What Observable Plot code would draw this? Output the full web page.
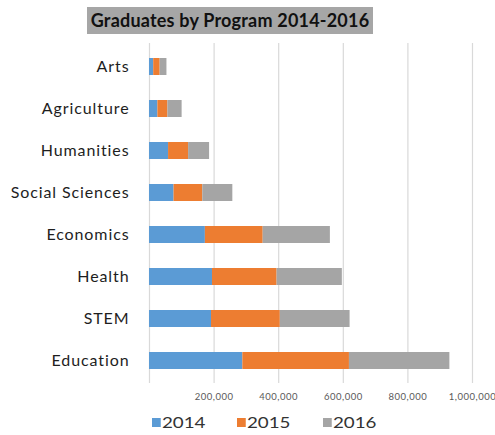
<!DOCTYPE html>
<html>
<head>
<meta charset="utf-8">
<script src="https://cdn.jsdelivr.net/npm/d3@7"></script>
<script src="https://cdn.jsdelivr.net/npm/@observablehq/plot@0.6"></script>
<style>
  body { margin: 0; background: #fff; font-family: Lato, "Open Sans", sans-serif; }
  #wrap { position: relative; width: 495px; height: 435px; overflow: hidden; }
  #title { height: 40px; position: relative; }
  #title span { position: absolute; left: 87px; top: 7px; width: 286px; height: 27px; line-height: 27px;
    background: #a6a6a6; color: #111; font-weight: bold; font-size: 18px; letter-spacing: 0.2px; text-align: center; white-space: nowrap; }
  #legend { position: relative; height: 25px; }
  .item { position: absolute; top: 4px; font-size: 15px; color: #333; line-height: 17px; transform-origin: 0 50%; transform: scaleX(1.25); }
  .sw { display: inline-block; width: 6.5px; height: 9px; margin-right: 1.5px; vertical-align: 1px; }
  #chart g[aria-label="y-axis tick label"] text { letter-spacing: 0.9px; }
  #chart g[aria-label="x-axis tick label"] text { letter-spacing: 0.5px; }
</style>
</head>
<body>
<div id="wrap">
  <div id="title"><span>Graduates by Program 2014-2016</span></div>
  <div id="chart"></div>
  <div id="legend"></div>
</div>
<script>
const programs = ["Arts", "Agriculture", "Humanities", "Social Sciences", "Economics", "Health", "STEM", "Education"];
const years = ["2014", "2015", "2016"];
const v2014 = [13000, 26000, 59000, 76000, 173000, 195000, 192000, 289000];
const v2015 = [20000, 31000, 62000, 89000, 179000, 200000, 213000, 330000];
const v2016 = [21000, 44000, 65000, 93000, 208000, 202000, 216000, 311000];
const colors = ["#5b9bd5", "#ed7d31", "#a5a5a5"];
const xTicks = [200000, 400000, 600000, 800000, 1000000];
const gridTicks = [0, ...xTicks];

const series = [v2014, v2015, v2016];
const data = [];
programs.forEach((p, i) => years.forEach((y, j) => data.push({program: p, year: y, value: series[j][i]})));

const chart = Plot.plot({
  width: 495,
  height: 370,
  marginTop: 3,
  marginBottom: 27,
  marginLeft: 149,
  marginRight: 23,
  style: {fontFamily: "Lato, 'Open Sans', sans-serif", background: "#fff"},
  x: {domain: [0, 1000000]},
  y: {domain: programs, paddingInner: 0.6, paddingOuter: 0.3},
  color: {domain: years, range: colors},
  marks: [
    Plot.ruleX(gridTicks, {stroke: "#d9d9d9", strokeWidth: 1.2}),
    Plot.barX(data, Plot.stackX({y: "program", x: "value", fill: "year", order: years})),
    Plot.axisX(xTicks, {tickSize: 0, tickPadding: 10, fontSize: 9.5, fill: "#595959", tickFormat: d3.format(","), label: null}),
    Plot.axisY({tickSize: 0, tickPadding: 20, fontSize: 16, fill: "#1e1e1e", label: null})
  ]
});
document.getElementById("chart").appendChild(chart);

const legendPos = [152, 237, 323];
const legend = document.getElementById("legend");
years.forEach((y, i) => {
  const d = document.createElement("div");
  d.className = "item";
  d.style.left = legendPos[i] + "px";
  d.innerHTML = `<span class="sw" style="background:${colors[i]}"></span>${y}`;
  legend.appendChild(d);
});
</script>
</body>
</html>
